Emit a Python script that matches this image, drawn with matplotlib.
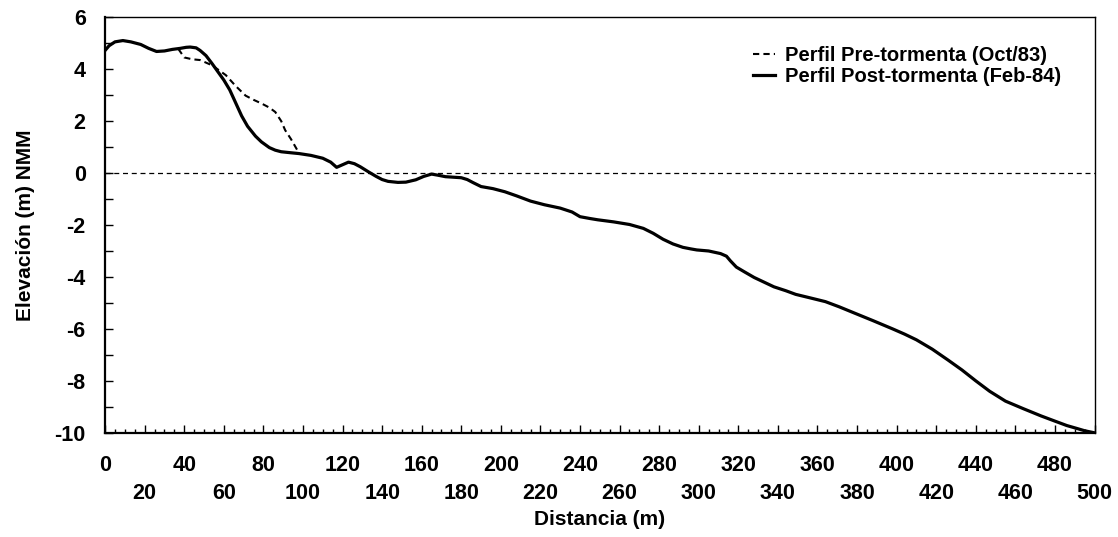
import numpy as np
import matplotlib.pyplot as plt
from matplotlib.ticker import MultipleLocator, FixedLocator, FixedFormatter

plt.rcParams['font.family'] = ['Liberation Sans', 'DejaVu Sans']
plt.rcParams['font.weight'] = 'bold'
plt.rcParams['axes.unicode_minus'] = False

# perfil post-tormenta (Feb-84)
post_x = [0, 2, 5, 9, 13, 18, 22, 26, 30, 34, 38, 41, 43, 46, 48, 51, 54, 57, 60,
          63, 66, 69, 72, 76, 79, 83, 86, 89, 94, 98, 104, 110, 114, 117, 120, 123,
          126, 129, 133, 137, 140, 143, 148, 152, 157, 161, 165, 168, 172, 176, 180,
          183, 186, 190, 196, 202, 208, 215, 222, 230, 236, 240, 245, 249, 257, 265,
          272, 277, 282, 287, 292, 296, 299, 305, 311, 314, 316, 319, 323, 328, 333,
          338, 344, 349, 356, 364, 371, 379, 388, 398, 404, 410, 418, 426, 433, 440,
          447, 455, 464, 473, 480, 486, 491, 495, 500]
post_y = [4.72, 4.9, 5.05, 5.1, 5.05, 4.95, 4.8, 4.68, 4.7, 4.76, 4.8, 4.84, 4.85,
          4.82, 4.72, 4.52, 4.22, 3.9, 3.58, 3.2, 2.7, 2.2, 1.8, 1.42, 1.2, 0.98,
          0.88, 0.82, 0.78, 0.75, 0.68, 0.57, 0.42, 0.22, 0.32, 0.42, 0.36, 0.24,
          0.05, -0.13, -0.25, -0.32, -0.36, -0.35, -0.26, -0.13, -0.04, -0.08, -0.14,
          -0.16, -0.18, -0.25, -0.37, -0.52, -0.6, -0.72, -0.88, -1.08, -1.22, -1.35,
          -1.5, -1.68, -1.75, -1.8, -1.88, -1.98, -2.13, -2.32, -2.55, -2.73, -2.86,
          -2.92, -2.96, -3.0, -3.1, -3.2, -3.38, -3.62, -3.8, -4.02, -4.2, -4.38,
          -4.53, -4.67, -4.8, -4.95, -5.15, -5.4, -5.68, -6.0, -6.2, -6.42, -6.78,
          -7.2, -7.58, -8.0, -8.4, -8.78, -9.07, -9.35, -9.55, -9.72, -9.83, -9.92,
          -10.0]

# perfil pre-tormenta (Oct/83), solo donde difiere
pre_x = [37, 40, 44, 48, 54, 61, 66, 71, 75, 79, 83, 86, 89, 91, 94, 97]
pre_y = [4.78, 4.45, 4.38, 4.35, 4.15, 3.77, 3.35, 2.98, 2.82, 2.68, 2.52, 2.35, 2.0,
         1.65, 1.3, 0.9]

xlab_vals = list(range(0, 501, 20))
xlab_text = [str(v) if (v // 20) % 2 == 0 else '\n' + str(v) for v in xlab_vals]

fig = plt.figure(figsize=(11.18, 5.37), dpi=100)
ax = fig.add_axes([0.094, 0.194, 0.885, 0.774])

ax.axhline(0, color='black', lw=0.9, ls=(0, (4, 3)), zorder=1)
ax.plot(pre_x, pre_y, color='black', lw=1.5, ls=(0, (3, 2)),
        label='Perfil Pre-tormenta (Oct/83)', zorder=2)
ax.plot(post_x, post_y, color='black', lw=2.3, solid_joinstyle='round',
        label='Perfil Post-tormenta (Feb-84)', zorder=3)

ax.set_xlim(0, 500)
ax.set_ylim(-10, 6)

ax.xaxis.set_major_locator(FixedLocator(xlab_vals))
ax.xaxis.set_major_formatter(FixedFormatter(xlab_text))
ax.xaxis.set_minor_locator(MultipleLocator(5))
ax.yaxis.set_major_locator(MultipleLocator(2))
ax.yaxis.set_minor_locator(MultipleLocator(1))

ax.tick_params(axis='x', which='major', direction='in', length=6, width=1,
               labelsize=15.5, pad=16)
ax.tick_params(axis='x', which='minor', direction='in', length=3, width=1)
ax.tick_params(axis='y', which='major', direction='in', length=6, width=1,
               labelsize=15.5, pad=14)
ax.tick_params(axis='y', which='minor', direction='in', length=6, width=1)
for lab in ax.get_xticklabels():
    lab.set_fontweight('bold')
    lab.set_linespacing(1.45)
for lab in ax.get_yticklabels():
    lab.set_fontweight('bold')

for s in ax.spines.values():
    s.set_linewidth(1.0)
ax.spines['left'].set_linewidth(1.6)
ax.spines['bottom'].set_linewidth(1.6)

ax.set_xlabel('Distancia (m)', fontsize=15, fontweight='bold', labelpad=4)
ax.set_ylabel('Elevación (m) NMM', fontsize=15, fontweight='bold', labelpad=14)

leg = ax.legend(loc='upper right', frameon=False, fontsize=14.5, handlelength=1.1,
                handletextpad=0.5, bbox_to_anchor=(0.985, 0.975), labelspacing=0.1)
for t in leg.get_texts():
    t.set_fontweight('bold')

fig.savefig('out.png', dpi=100)
